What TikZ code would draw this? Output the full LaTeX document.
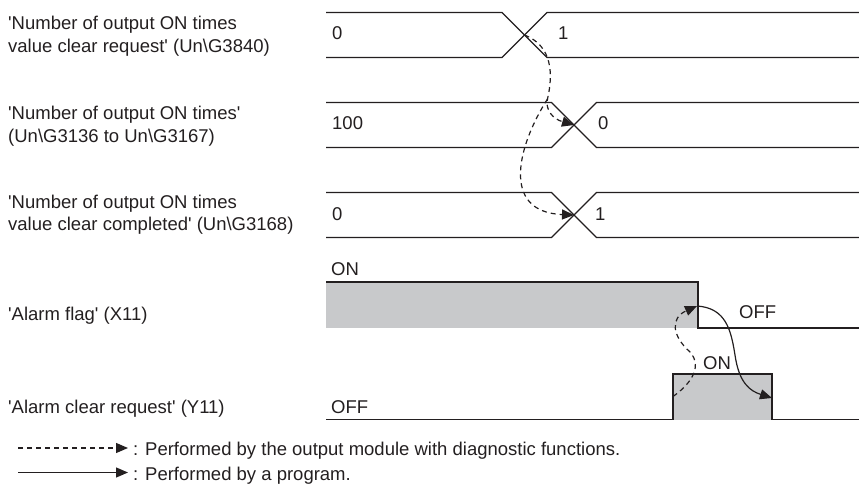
\documentclass[tikz,border=0pt]{standalone}
\usepackage{fontspec}
\setmainfont{Liberation Sans}
\usetikzlibrary{arrows.meta}
\definecolor{ink}{HTML}{231F20}
\definecolor{shade}{HTML}{C8C9CB}
\newcommand{\sq}{\textquotesingle}
\begin{document}
\begin{tikzpicture}[x=1pt,y=-1pt,
  txt/.style={anchor=base west, inner sep=0pt, text=ink,
    font=\fontsize{18.5pt}{22.5pt}\selectfont},
  sigline/.style={draw=ink, line width=1.4pt, line join=miter},
  hiarea/.style={fill=shade, draw=none},
  tipshape/.style={-{Triangle[length=12pt,width=10pt]}},
  autoflow/.style={draw=ink, line width=1.2pt, dash pattern=on 5pt off 4pt, tipshape},
  progflow/.style={draw=ink, line width=1.2pt, tipshape}]
\useasboundingbox (0,0) rectangle (859,484);

% ---- signal names
\node[txt] (n1a) at (8,30)    {\sq Number of output ON times};
\node[txt] (n1b) at (8,52.5)  {value clear request\sq{} (Un\textbackslash G3840)};
\node[txt] (n2a) at (8,120)   {\sq Number of output ON times\sq};
\node[txt] (n2b) at (8,142.5) {(Un\textbackslash G3136 to Un\textbackslash G3167)};
\node[txt] (n3a) at (8,208)   {\sq Number of output ON times};
\node[txt] (n3b) at (8,230.5) {value clear completed\sq{} (Un\textbackslash G3168)};
\node[txt] (n4)  at (8,320)   {\sq Alarm flag\sq{} (X11)};
\node[txt] (n5)  at (8,413.5) {\sq Alarm clear request\sq{} (Y11)};

% ---- data buses
\draw[sigline] (326,12.5) -- (502,12.5) -- (547,57.5) -- (859,57.5);
\draw[sigline] (326,57.5) -- (502,57.5) -- (547,12.5) -- (859,12.5);
\coordinate (x1) at (524.5,35);

\draw[sigline] (326,102.5) -- (551.5,102.5) -- (596.5,147.5) -- (859,147.5);
\draw[sigline] (326,147.5) -- (551.5,147.5) -- (596.5,102.5) -- (859,102.5);
\coordinate (x2) at (574,125);

\draw[sigline] (326,192.5) -- (551.5,192.5) -- (596.5,237.5) -- (859,237.5);
\draw[sigline] (326,237.5) -- (551.5,237.5) -- (596.5,192.5) -- (859,192.5);
\coordinate (x3) at (574,215);

\node[txt] (v1a) at (332,40)  {0};
\node[txt] (v1b) at (558,40)  {1};
\node[txt] (v2a) at (332,130) {100};
\node[txt] (v2b) at (598,130) {0};
\node[txt] (v3a) at (332,220) {0};
\node[txt] (v3b) at (595,220) {1};

% ---- alarm flag
\fill[hiarea] (326,282) rectangle (698,328);
\draw[sigline] (326,282) -- (698,282) -- (698,328) -- (859,328);
\node[txt] (f4on)  at (331,275) {ON};
\node[txt] (f4off) at (739,318) {OFF};
\coordinate (af) at (697,306);

% ---- alarm clear request
\fill[hiarea] (673,374) rectangle (772,419.5);
\draw[sigline] (326,419.5) -- (673,419.5) -- (673,374) -- (772,374) -- (772,419.5) -- (859,419.5);
\node[txt] (f5off) at (331,413.5) {OFF};
\node[txt] (f5on)  at (703,369)   {ON};
\coordinate (cr) at (673,396.5);
\coordinate (cf) at (772,398);

% ---- cause and effect
\coordinate (b1) at (547.5,99);
\draw[autoflow] (x1) .. controls (553,46) and (553,75) .. (b1)
                     .. controls (545,110) and (553,119) .. (x2);
\draw[autoflow] (b1) .. controls (518,145) and (500,212) .. (x3);
\coordinate (m2) at (690,352);
\draw[autoflow] (cr) .. controls (688,386) and (704,368) .. (m2)
                     .. controls (672,336) and (670,318) .. (af);
\coordinate (m3) at (735,355);
\draw[progflow] (af) .. controls (726,308) and (731,330) .. (m3)
                     .. controls (739,383) and (750,391) .. (cf);

% ---- legend
\coordinate (la0) at (18,448);   \coordinate (la1) at (128,448);
\coordinate (lb0) at (18,472.5); \coordinate (lb1) at (128,472.5);
\draw[autoflow] (la0) -- (la1);
\draw[progflow] (lb0) -- (lb1);
\node[txt] (lga) at (133,455) {: Performed by the output module with diagnostic functions.};
\node[txt] (lgb) at (133,480) {: Performed by a program.};
\end{tikzpicture}
\end{document}
